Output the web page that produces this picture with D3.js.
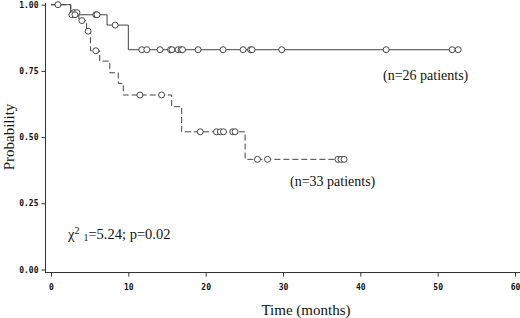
<!DOCTYPE html>
<html>
<head>
<meta charset="utf-8">
<script src="https://cdn.jsdelivr.net/npm/d3@7"></script>
<style>
  body { margin: 0; background: #fff; }
  svg { display: block; }
</style>
</head>
<body>
<svg id="km"></svg>
<script>
//  axis ticks
const xTicks = [0, 10, 20, 30, 40, 50, 60];
const yTicks = [0, 0.25, 0.5, 0.75, 1];

//  group n=26 (solid line) : event times / survival after event
const solidEventTimes = [2.55, 7.25, 10.0];
const solidSurvival = [0.962, 0.923, 0.83];
const solidEnd = 52.65;
const solidCensored = [0.9, 2.7, 3.1, 5.8, 5.95, 8.3, 11.74, 12.39, 14.1, 15.46, 15.65, 16.43, 16.82, 17.01,
  19.02, 22.25, 24.84, 25.81, 26.0, 29.84, 43.34, 51.88, 52.65];

//  group n=33 (dashed line)
const dashedEventTimes = [2.55, 3.6, 4.6, 5.1, 6.3, 7.6, 8.7, 9.35, 15.6, 16.9, 25.1];
const dashedSurvival = [0.97, 0.94, 0.90, 0.826, 0.787, 0.743, 0.703, 0.659, 0.615, 0.52, 0.416];
const dashedEnd = 37.9;
const dashedCensored = [2.95, 3.35, 4.0, 4.8, 5.8, 11.5, 14.3, 19.3, 21.4, 21.9, 22.3, 23.5, 23.8,
  26.7, 28.0, 37.1, 37.5, 37.9];

const W = 520, H = 318;
const svg = d3.select("#km").attr("width", W).attr("height", H);

const x = d3.scaleLinear().domain([0, 60]).range([51, 515]);
const y = d3.scaleLinear().domain([0, 1]).range([269.5, 4.7]);

const ink = "#333";
const lineInk = "#444";

//  survival value at time t (step function)
function survAt(times, surv, t) {
  let s = 1;
  times.forEach((e, i) => { if (e <= t) s = surv[i]; });
  return s;
}

function stepPoints(times, surv, end) {
  const pts = [[0, 1]];
  times.forEach((t, i) => pts.push([t, surv[i]]));
  pts.push([end, surv[surv.length - 1]]);
  return pts;
}

//  axes
const yAxis = d3.axisLeft(y).tickValues(yTicks).tickSize(4).tickPadding(3)
  .tickFormat(d3.format(".2f"));
const gy = svg.append("g").attr("transform", "translate(45.5,0)").call(yAxis);
gy.select(".domain").remove();

const xAxis = d3.axisBottom(x).tickValues(xTicks).tickSize(4).tickPadding(8);
const gx = svg.append("g").attr("transform", "translate(0,272.5)").call(xAxis);
gx.select(".domain").remove();

[gx, gy].forEach(g => {
  g.selectAll("line").attr("stroke", ink);
  g.selectAll("text")
    .style("font-family", "'DejaVu Sans Mono', monospace")
    .style("font-weight", "bold")
    .style("font-size", "8px")
    .attr("fill", "#111");
});

svg.append("line").attr("x1", 45.5).attr("x2", 45.5).attr("y1", 3).attr("y2", 273)
  .attr("stroke", ink);
svg.append("line").attr("x1", 45).attr("x2", 520).attr("y1", 272.5).attr("y2", 272.5)
  .attr("stroke", ink);

//  curves
const line = d3.line().x(d => x(d[0])).y(d => y(d[1])).curve(d3.curveStepAfter);

svg.append("path")
  .attr("d", line(stepPoints(dashedEventTimes, dashedSurvival, dashedEnd)))
  .attr("fill", "none").attr("stroke", lineInk).attr("stroke-width", 1)
  .attr("stroke-dasharray", "6,3");

svg.append("path")
  .attr("d", line(stepPoints(solidEventTimes, solidSurvival, solidEnd)))
  .attr("fill", "none").attr("stroke", lineInk).attr("stroke-width", 1);

//  censor marks
function drawCensors(list, times, surv) {
  svg.append("g").selectAll("circle")
    .data(list).enter().append("circle")
    .attr("cx", d => x(d))
    .attr("cy", d => y(survAt(times, surv, d)))
    .attr("r", 3)
    .attr("fill", "#fff")
    .attr("stroke", ink)
    .attr("stroke-width", 0.9);
}
drawCensors(dashedCensored, dashedEventTimes, dashedSurvival);
drawCensors(solidCensored, solidEventTimes, solidSurvival);

//  labels
const serif = "'Liberation Serif', 'Times New Roman', serif";

svg.append("text")
  .attr("x", 306).attr("y", 315)
  .attr("text-anchor", "middle")
  .style("font-family", serif).style("font-size", "15px")
  .attr("fill", "#111")
  .text("Time (months)");

svg.append("text")
  .attr("transform", "translate(14,137) rotate(-90)")
  .attr("text-anchor", "middle")
  .style("font-family", serif).style("font-size", "15px")
  .attr("fill", "#111")
  .text("Probability");

svg.append("text")
  .attr("x", 383).attr("y", 80)
  .style("font-family", serif).style("font-size", "14px")
  .attr("fill", "#111")
  .text("(n=26 patients)");

svg.append("text")
  .attr("x", 290).attr("y", 186)
  .style("font-family", serif).style("font-size", "14px")
  .attr("fill", "#111")
  .text("(n=33 patients)");

const chi = svg.append("text")
  .attr("x", 68).attr("y", 239)
  .style("font-family", serif).style("font-size", "14.5px")
  .attr("fill", "#111");
chi.append("tspan").text("χ");
chi.append("tspan").attr("dy", -5).style("font-size", "10px").text("2");
chi.append("tspan").attr("dx", 4).attr("dy", 7).style("font-size", "10px").text("1");
chi.append("tspan").attr("dy", -2).text("=5.24; p=0.02");
</script>
</body>
</html>
